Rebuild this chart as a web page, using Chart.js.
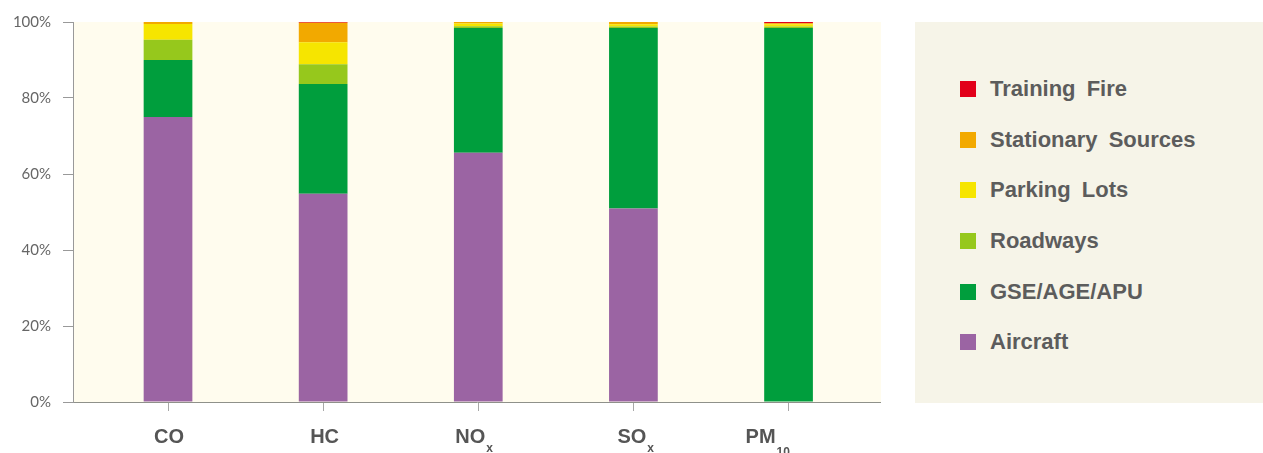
<!DOCTYPE html>
<html>
<head>
<meta charset="utf-8">
<script src="https://cdn.jsdelivr.net/npm/chart.js@4.4.1/dist/chart.umd.min.js"></script>
<style>
  body { margin: 0; background: #fff; }
  #wrap { position: relative; width: 1263px; height: 453px; }
  #chartBox { position: absolute; left: 0; top: 0; width: 881px; height: 453px; }
  #legend {
    position: absolute; left: 915px; top: 22px; width: 348px; height: 381px;
    background: #f6f4e8;
  }
  #legend ul { list-style: none; margin: 0; padding: 42px 0 0 0; }
  #legend li {
    display: flex; align-items: center; height: 50.6px;
    font: bold 22px "Liberation Sans", Arial, sans-serif; color: #5c5c5c; word-spacing: 5px;
  }
  #legend .box { width: 16px; height: 16px; margin-left: 45px; margin-right: 14px; flex: none; }
</style>
</head>
<body>
<div id="wrap">
  <div id="chartBox"><canvas id="chart"></canvas></div>
  <div id="legend"></div>
</div>
<script>
// pollutants (x categories) - main text + subscript
const pollutants = ["CO", "HC", "NO", "SO", "PM"];
const pollutantSubs = ["", "", "x", "x", "10"];

// share of emissions per source, % (CO, HC, NOx, SOx, PM10)
const aircraft = [75.0, 54.8, 65.6, 50.9, 0];
const gseAgeApu = [15.0, 28.9, 32.8, 47.5, 98.4];
const roadways = [5.3, 5.2, 0.5, 0.4, 0.4];
const parkingLots = [4.2, 5.8, 0.7, 0.6, 0.6];
const stationary = [0.5, 5.1, 0.4, 0.6, 0.3];
const trainingFire = [0, 0.2, 0, 0, 0.3];

const yTicks = [0, 20, 40, 60, 80, 100];

// label nudges, left edge of label relative to its tick (px)
const labelShift = [-14, -13, -23, -16, -43];

function toPoints(arr) {
  return arr.map((v, i) => ({ x: i, y: v }));
}

const sources = [
  { label: "Aircraft", values: aircraft, color: "#9b64a3" },
  { label: "GSE/AGE/APU", values: gseAgeApu, color: "#009e3d" },
  { label: "Roadways", values: roadways, color: "#96c81c" },
  { label: "Parking Lots", values: parkingLots, color: "#f6e500" },
  { label: "Stationary Sources", values: stationary, color: "#f2a900" },
  { label: "Training Fire", values: trainingFire, color: "#e2001a" },
];

// cream plot background
const plotBg = {
  id: "plotBg",
  beforeDraw(chart) {
    const { ctx, chartArea: a } = chart;
    ctx.save();
    ctx.fillStyle = "#fffcee";
    ctx.fillRect(a.left, a.top, a.right - a.left, a.bottom - a.top);
    ctx.restore();
  },
};

// x labels with subscripts
const subLabels = {
  id: "subLabels",
  afterDraw(chart) {
    const ctx = chart.ctx;
    const xs = chart.scales.x;
    ctx.save();
    ctx.fillStyle = "#555";
    ctx.textBaseline = "alphabetic";
    ctx.textAlign = "left";
    pollutants.forEach((main, i) => {
      const x0 = xs.getPixelForValue(i) + labelShift[i];
      ctx.font = "bold 20px 'Liberation Sans', Arial, sans-serif";
      ctx.fillText(main, x0, 443);
      const w = ctx.measureText(main).width;
      if (pollutantSubs[i]) {
        ctx.font = "bold 12px 'Liberation Sans', Arial, sans-serif";
        ctx.fillText(pollutantSubs[i], x0 + w + 1, pollutantSubs[i] === "10" ? 456 : 452);
      }
    });
    ctx.restore();
  },
};

// html legend, top item = top of stack
const htmlLegend = {
  id: "htmlLegend",
  afterUpdate(chart) {
    const box = document.getElementById("legend");
    box.innerHTML = "";
    const ul = document.createElement("ul");
    chart.data.datasets.slice().reverse().forEach((ds) => {
      const li = document.createElement("li");
      const sw = document.createElement("span");
      sw.className = "box";
      sw.style.background = ds.backgroundColor;
      li.appendChild(sw);
      li.appendChild(document.createTextNode(ds.label));
      ul.appendChild(li);
    });
    box.appendChild(ul);
  },
};

const ctx = document.getElementById("chart").getContext("2d");
const myChart = new Chart(ctx, {
  type: "bar",
  data: {
    datasets: sources.map((s) => ({
      label: s.label,
      data: toPoints(s.values),
      backgroundColor: s.color,
      borderWidth: 0,
      barPercentage: 0.314,
      categoryPercentage: 1,
    })),
  },
  options: {
    responsive: true,
    maintainAspectRatio: false,
    animation: false,
    layout: { padding: { top: 22, right: 0, left: 0, bottom: 0 } },
    plugins: {
      legend: { display: false },
      tooltip: { enabled: false },
    },
    scales: {
      x: {
        type: "linear",
        stacked: true,
        offset: false,
        min: -0.6125,
        max: 4.596,
        afterBuildTicks(scale) {
          scale.ticks = pollutants.map((p, i) => ({ value: i }));
        },
        afterFit(scale) {
          scale.height = 51;
        },
        ticks: { display: false },
        grid: {
          offset: false,
          drawOnChartArea: false,
          drawTicks: true,
          tickLength: 9,
          color: "#a8a8a8",
        },
        border: { color: "#8f918a", width: 1 },
      },
      y: {
        stacked: true,
        min: 0,
        max: 100,
        afterBuildTicks(scale) {
          scale.ticks = yTicks.map((v) => ({ value: v }));
        },
        afterFit(scale) {
          scale.width = 73;
        },
        ticks: {
          callback: (v) => v + "%",
          font: { family: "Lato", size: 15 },
          color: "#666",
          padding: 12,
        },
        grid: {
          drawOnChartArea: false,
          drawTicks: true,
          tickLength: 10,
          color: "#999",
        },
        border: { color: "#999", width: 1 },
      },
    },
  },
  plugins: [plotBg, subLabels, htmlLegend],
});
</script>
</body>
</html>
